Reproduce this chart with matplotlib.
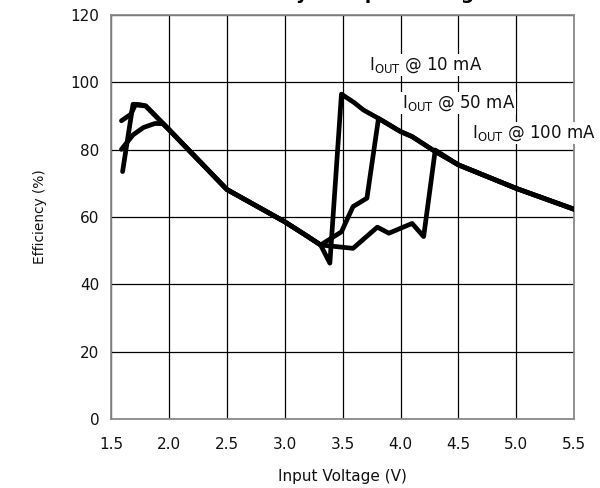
import matplotlib
matplotlib.use("Agg")
import matplotlib.pyplot as plt

plt.rcParams['font.family'] = ['DejaVu Sans']
plt.rcParams['mathtext.fontset'] = 'dejavusans'

# ---- data ----
v_10 = [1.60, 1.69, 1.75, 1.80, 2.0, 2.5, 3.0, 3.2, 3.31, 3.39, 3.49, 3.60, 3.68, 3.81,
        4.0, 4.1, 4.28, 4.5, 5.0, 5.5]
e_10 = [73.5, 93.5, 93.4, 93.0, 86.0, 68.2, 58.6, 54.2, 51.7, 46.3, 96.5, 94.0, 91.8, 89.3,
        85.4, 83.9, 79.9, 75.5, 68.5, 62.3]

v_50 = [1.59, 1.67, 1.71, 1.80, 2.0, 2.5, 3.0, 3.2, 3.31, 3.49, 3.59, 3.71, 3.81,
        4.0, 4.1, 4.28, 4.5, 5.0, 5.5]
e_50 = [88.6, 90.5, 93.3, 93.0, 86.0, 68.2, 58.6, 54.2, 51.7, 55.6, 63.1, 65.6, 89.3,
        85.4, 83.9, 79.9, 75.5, 68.5, 62.3]

v_100 = [1.59, 1.69, 1.78, 1.88, 1.95, 2.0, 2.5, 3.0, 3.2, 3.31, 3.59, 3.80, 3.90, 4.10,
         4.20, 4.30, 4.5, 5.0, 5.5]
e_100 = [80.1, 84.4, 86.6, 87.8, 87.7, 86.0, 68.2, 58.6, 54.2, 51.7, 50.7, 57.0, 55.2, 58.1,
         54.2, 79.9, 75.5, 68.5, 62.3]

x_ticks = [1.5, 2.0, 2.5, 3.0, 3.5, 4.0, 4.5, 5.0, 5.5]
y_ticks = [0, 20, 40, 60, 80, 100, 120]

labels = [r"I$_{\mathrm{OUT}}$ @ 10 mA", r"I$_{\mathrm{OUT}}$ @ 50 mA", r"I$_{\mathrm{OUT}}$ @ 100 mA"]
label_pos = [(3.73, 105.2), (4.01, 93.9), (4.62, 85.0)]

# ---- figure ----
fig = plt.figure(figsize=(6.0, 4.88), dpi=100)
ax = fig.add_axes([0.185, 0.1414, 0.772, 0.8277])

for v, e in [(v_10, e_10), (v_50, e_50), (v_100, e_100)]:
    ax.plot(v, e, color='black', lw=3.4, solid_joinstyle='round', solid_capstyle='round', zorder=3)

ax.set_xlim(1.5, 5.5)
ax.set_ylim(0, 120)
ax.set_xticks(x_ticks)
ax.set_xticklabels([f"{t:.1f}" for t in x_ticks])
ax.set_yticks(y_ticks)
ax.tick_params(length=0, labelsize=11, colors='#111111')
ax.tick_params(axis='x', pad=13)
ax.tick_params(axis='y', pad=8.5)
ax.grid(True, color='black', lw=0.9, zorder=1)
ax.set_axisbelow(True)
for s in ax.spines.values():
    s.set_color('#8a8a8a')
    s.set_linewidth(1.3)

ax.set_xlabel("Input Voltage (V)", fontsize=11, color='#111111')
ax.xaxis.label.set_va('center')
ax.xaxis.set_label_coords(0.5, -0.1436)
ax.set_ylabel("Efficiency (%)", fontsize=9.9, color='#111111')
ax.yaxis.label.set_va('center')
ax.yaxis.set_label_coords(-0.153, 0.5)

for txt, (x, y) in zip(labels, label_pos):
    ax.text(x, y, txt, fontsize=12, ha='left', va='center', zorder=4, clip_on=False,
            color='#111111', bbox=dict(facecolor='white', edgecolor='none', pad=1.0))

fig.text(0.578, 1.0 + 1.0 / 488, "Efficiency vs Input Voltage", ha='center', va='baseline',
         fontsize=13.4, fontweight='bold')

fig.savefig("out.png", dpi=100)
